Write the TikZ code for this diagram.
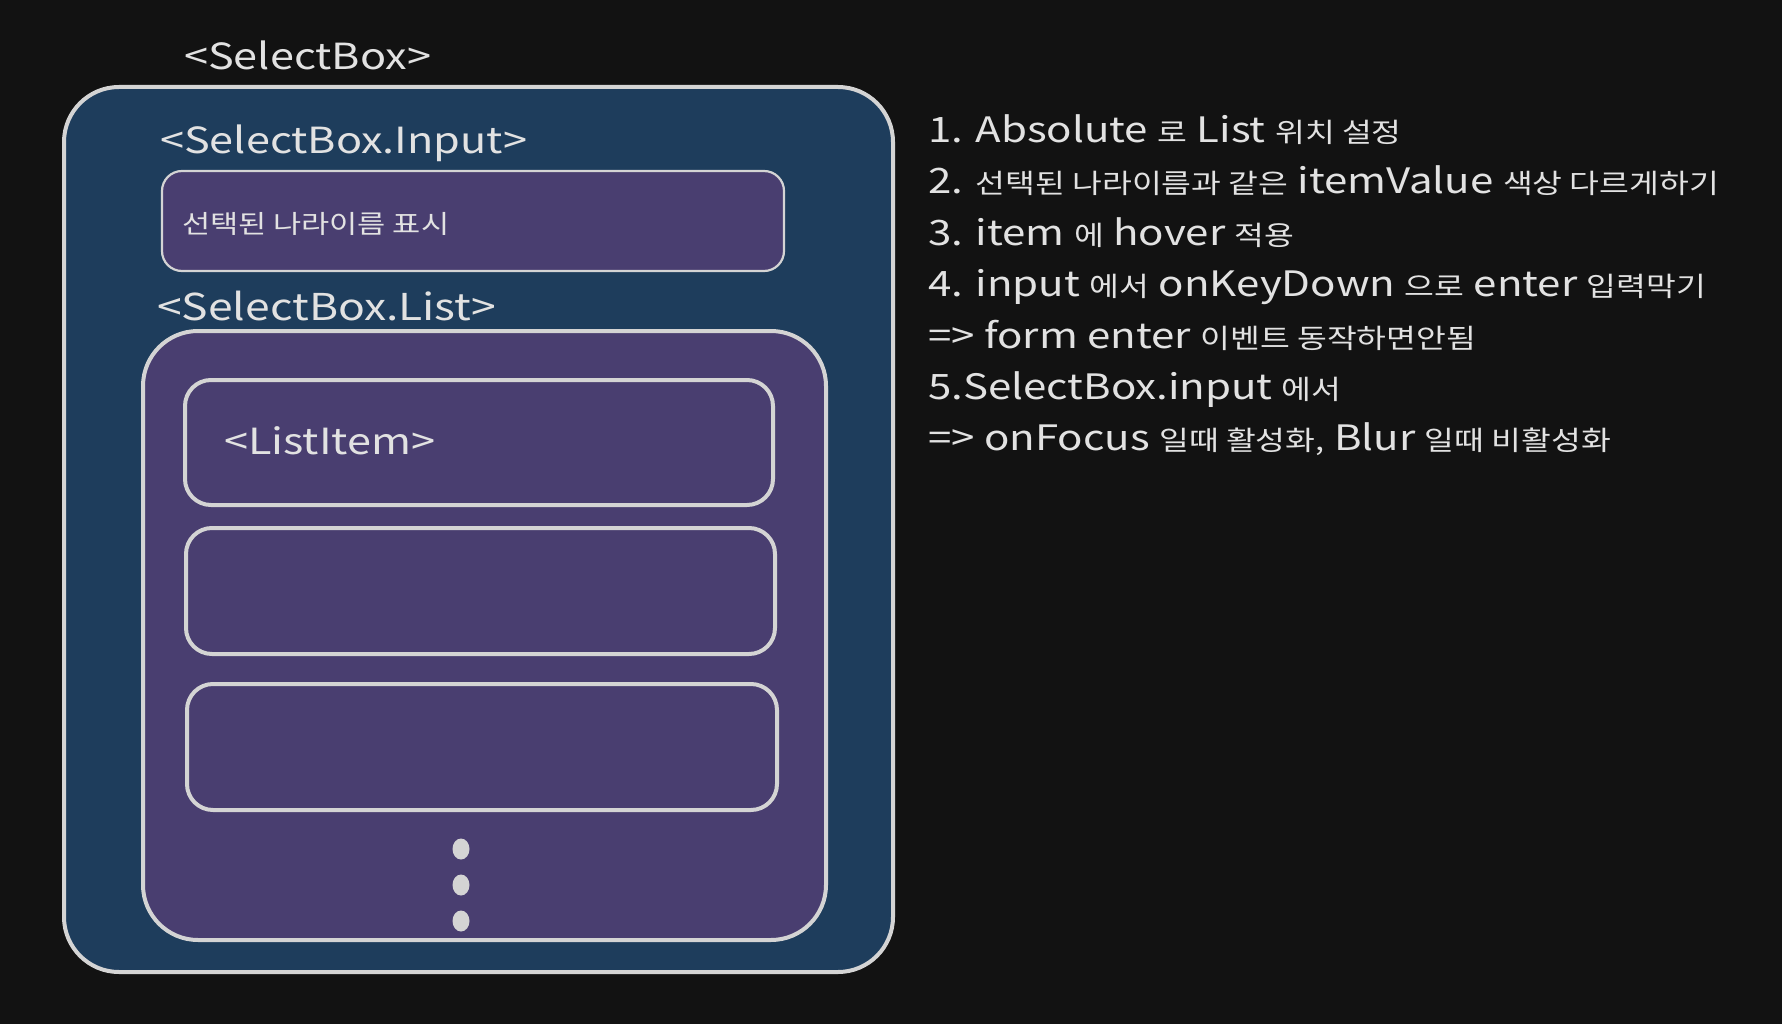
\documentclass[tikz,border=0pt]{standalone}
\usepackage{fontspec}
\setmainfont{Noto Sans CJK KR}[FakeStretch=1.2]
\definecolor{bgc}{HTML}{121212}
\definecolor{bluef}{HTML}{1E3D5C}
\definecolor{purf}{HTML}{493E70}
\definecolor{strk}{HTML}{D4D4D4}
\definecolor{txtc}{HTML}{E2E2E2}
\newcommand{\kr}[1]{{\fontsize{27}{30}\selectfont #1}}
\usetikzlibrary{shapes.geometric}
\tikzset{
  outerbox/.style={draw=strk, line width=4pt, fill=bluef, rounded corners=55pt},
  listbox/.style={draw=strk, line width=4pt, fill=purf, rounded corners=55pt},
  inputbox/.style={draw=strk, line width=2.2pt, fill=purf, rounded corners=20pt},
  itembox/.style={draw=strk, line width=4pt, fill=purf, rounded corners=26pt},
  lbl/.style={text=txtc, font=\fontsize{36}{40}\selectfont, inner sep=0pt, anchor=west},
  note/.style={text=txtc, font=\fontsize{35}{40}\selectfont, inner sep=0pt, anchor=base west},
  dotm/.style={fill=strk, ellipse, minimum width=17pt, minimum height=21pt, inner sep=0pt},
}
\begin{document}
\begin{tikzpicture}[x=1pt,y=-1pt]
\useasboundingbox (0,0) rectangle (1782,1024);
\fill[bgc] (0,0) rectangle (1782,1024);

\node[lbl] (tsel) at (184,55) {<SelectBox>};
\draw[outerbox] (64,87) rectangle (893,972);
\node[lbl] (tin) at (160,143) {<SelectBox.Input>};
\draw[inputbox] (162,171) rectangle (784,271);
\node[lbl, font=\fontsize{25.5}{30}\selectfont] (tsh) at (182,224) {선택된 나라이름 표시};
\node[lbl, font=\fontsize{37}{40}\selectfont] (tlist) at (157,306) {<SelectBox.List>};
\draw[listbox] (143,331) rectangle (826,940);
\draw[itembox] (185,380) rectangle (773,505);
\node[lbl] (titem) at (224,441) {<ListItem>};
\draw[itembox] (186,528) rectangle (775,654);
\draw[itembox] (187,684) rectangle (777,810);
\node[dotm] (d1) at (461,849) {};
\node[dotm] (d2) at (461,885) {};
\node[dotm] (d3) at (461,921) {};

\node[note] (n1) at (928,143) {1. Absolute \kr{로} List \kr{위치 설정}};
\node[note] (n2) at (928,194) {2. \kr{선택된 나라이름과 같은} itemValue \kr{색상 다르게하기}};
\node[note] (n3) at (928,246) {3. item \kr{에} hover \kr{적용}};
\node[note] (n4) at (928,297) {4. input \kr{에서} onKeyDown \kr{으로} enter \kr{입력막기}};
\node[note] (n5) at (928,348) {=> form enter \kr{이벤트 동작하면안됨}};
\node[note] (n6) at (928,399) {5.SelectBox.input \kr{에서}};
\node[note] (n7) at (928,450) {=> onFocus \kr{일때 활성화,} Blur \kr{일때 비활성화}};
\end{tikzpicture}
\end{document}
